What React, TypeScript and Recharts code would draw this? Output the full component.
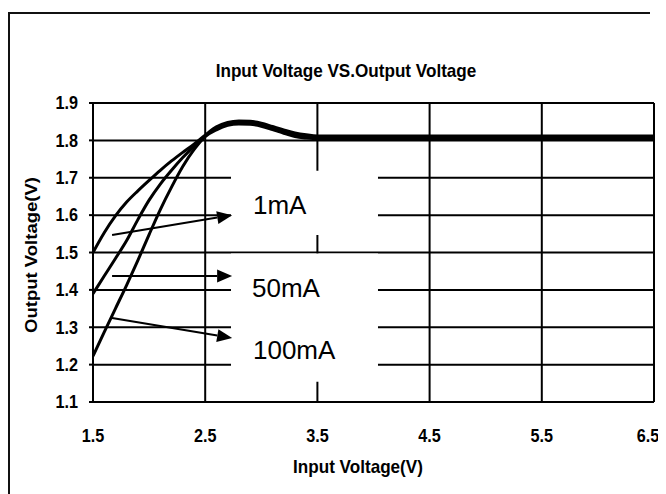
import {
  LineChart,
  Line,
  XAxis,
  YAxis,
  CartesianGrid,
  ReferenceArea,
  ReferenceLine,
  ReferenceDot,
} from 'recharts'

// input voltage (V) sample points
const vin = [
  1.5, 1.6, 1.7, 1.8, 1.9, 2.0, 2.1, 2.2, 2.3, 2.4, 2.5, 2.6, 2.7, 2.8, 2.9, 3.0,
  3.1, 3.2, 3.3, 3.4, 3.5, 4.0, 4.5, 5.0, 5.5, 6.0, 6.5,
]

// output voltage (V) per load current
const vout1mA = [
  1.5, 1.553, 1.598, 1.635, 1.665, 1.693, 1.72, 1.745, 1.768, 1.79, 1.814, 1.836,
  1.848, 1.852, 1.851, 1.846, 1.837, 1.828, 1.82, 1.815, 1.812, 1.812, 1.812,
  1.812, 1.812, 1.812, 1.812,
]
const vout50mA = [
  1.39, 1.437, 1.484, 1.532, 1.588, 1.64, 1.683, 1.72, 1.754, 1.784, 1.812, 1.832,
  1.844, 1.848, 1.847, 1.842, 1.833, 1.824, 1.815, 1.81, 1.808, 1.808, 1.808,
  1.808, 1.808, 1.808, 1.808,
]
const vout100mA = [
  1.223, 1.287, 1.35, 1.413, 1.479, 1.548, 1.615, 1.675, 1.73, 1.775, 1.81, 1.828,
  1.84, 1.844, 1.843, 1.838, 1.829, 1.819, 1.81, 1.806, 1.804, 1.804, 1.804,
  1.804, 1.804, 1.804, 1.804,
]

const xTicks = [1.5, 2.5, 3.5, 4.5, 5.5, 6.5]
const yTicks = [1.1, 1.2, 1.3, 1.4, 1.5, 1.6, 1.7, 1.8, 1.9]

// annotations (data coordinates)
const labelText = ['1mA', '50mA', '100mA']
const labelAt = [
  [2.926, 1.603],
  [2.917, 1.381],
  [2.926, 1.215],
]
const arrowFrom = [
  [1.67, 1.547],
  [1.67, 1.437],
  [1.67, 1.325],
]
const arrowTo = [
  [2.74, 1.6],
  [2.74, 1.437],
  [2.74, 1.271],
]
const boxX = [2.73, 4.04]
const boxY = [
  [1.547, 1.719],
  [1.154, 1.497],
]

const data = vin.map((v, i) => ({
  vin: v,
  i1: vout1mA[i],
  i50: vout50mA[i],
  i100: vout100mA[i],
}))

const FONT = '"Liberation Sans", Arial, sans-serif'

function XTick({ x, y, payload }: any) {
  return (
    <text
      transform={`translate(${x} ${y}) scale(0.9 1)`}
      textAnchor="middle"
      dy="0.35em"
      fontFamily={FONT}
      fontWeight="bold"
      fontSize={18}
      fill="#000"
    >
      {payload.value.toFixed(1)}
    </text>
  )
}

function YTick({ x, y, payload }: any) {
  return (
    <text
      transform={`translate(${x} ${y}) scale(0.9 1)`}
      textAnchor="end"
      dy="0.35em"
      fontFamily={FONT}
      fontWeight="bold"
      fontSize={18}
      fill="#000"
    >
      {payload.value.toFixed(1)}
    </text>
  )
}

function Arrow(props: any) {
  const { x1, y1, x2, y2 } = props
  if ([x1, y1, x2, y2].some((v) => typeof v !== 'number')) return null
  const a = Math.atan2(y2 - y1, x2 - x1)
  const len = 15
  const hw = 6.5
  const bx = x2 - len * Math.cos(a)
  const by = y2 - len * Math.sin(a)
  const px = -Math.sin(a) * hw
  const py = Math.cos(a) * hw
  return (
    <g>
      <line x1={x1} y1={y1} x2={bx} y2={by} stroke="#000" strokeWidth={2} />
      <polygon
        points={`${x2},${y2} ${bx + px},${by + py} ${bx - px},${by - py}`}
        fill="#000"
      />
    </g>
  )
}

const labelShape = (text: string) => (props: any) => (
  <text x={props.cx} y={props.cy} fontFamily={FONT} fontSize={26} fill="#000">
    {text}
  </text>
)

export default function App() {
  return (
    <div style={{ position: 'relative', width: 650, height: 486 }}>
      <style>
        {'body{overflow:hidden} .recharts-wrapper,.recharts-surface{overflow:visible !important}'}
      </style>
      <div
        style={{
          position: 'absolute',
          left: 0,
          top: 4,
          width: 640,
          height: 482,
          borderLeft: '2px solid #111',
          borderTop: '2px solid #111',
        }}
      />
      <LineChart
        width={650}
        height={478}
        data={data}
        margin={{ top: 95, right: 4, left: 0, bottom: 24 }}
      >
        <CartesianGrid stroke="#000" strokeWidth={2} />
        <XAxis
          type="number"
          dataKey="vin"
          domain={[1.5, 6.5]}
          ticks={xTicks}
          allowDataOverflow
          height={60}
          tickSize={0}
          tickMargin={34}
          tick={<XTick />}
          axisLine={{ stroke: '#000', strokeWidth: 2 }}
        />
        <YAxis
          type="number"
          domain={[1.1, 1.9]}
          ticks={yTicks}
          allowDataOverflow
          width={85}
          tickSize={4}
          tickMargin={11}
          tick={<YTick />}
          tickLine={{ stroke: '#000', strokeWidth: 2 }}
          axisLine={{ stroke: '#000', strokeWidth: 2 }}
        />
        {boxY.map(([y1, y2], i) => (
          <ReferenceArea
            key={`box-${i}`}
            x1={boxX[0]}
            x2={boxX[1]}
            y1={y1}
            y2={y2}
            fill="#fff"
            fillOpacity={1}
            stroke="none"
          />
        ))}
        <Line
          type="monotone"
          dataKey="i1"
          stroke="#000"
          strokeWidth={3}
          dot={false}
          isAnimationActive={false}
        />
        <Line
          type="monotone"
          dataKey="i50"
          stroke="#000"
          strokeWidth={3}
          dot={false}
          isAnimationActive={false}
        />
        <Line
          type="monotone"
          dataKey="i100"
          stroke="#000"
          strokeWidth={3}
          dot={false}
          isAnimationActive={false}
        />
        {arrowFrom.map((from, i) => (
          <ReferenceLine
            key={`arrow-${i}`}
            segment={[
              { x: from[0], y: from[1] },
              { x: arrowTo[i][0], y: arrowTo[i][1] },
            ]}
            shape={Arrow}
          />
        ))}
        {labelText.map((t, i) => (
          <ReferenceDot
            key={`label-${i}`}
            x={labelAt[i][0]}
            y={labelAt[i][1]}
            shape={labelShape(t)}
          />
        ))}
      </LineChart>
      <div
        style={{
          position: 'absolute',
          left: 337.5,
          top: 62.5,
          transform: 'translate(-50%, -50%) scaleX(0.9)',
          whiteSpace: 'nowrap',
          fontFamily: FONT,
          fontWeight: 'bold',
          fontSize: 19,
          lineHeight: '22px',
        }}
      >
        Input Voltage VS.Output Voltage
      </div>
      <div
        style={{
          position: 'absolute',
          left: 350,
          top: 459,
          transform: 'translate(-50%, -50%) scaleX(0.9)',
          whiteSpace: 'nowrap',
          fontFamily: FONT,
          fontWeight: 'bold',
          fontSize: 19,
          lineHeight: '22px',
        }}
      >
        Input Voltage(V)
      </div>
      <div
        style={{
          position: 'absolute',
          left: 24,
          top: 247,
          transform: 'translate(-50%, -50%) rotate(-90deg) scale(1, 0.9)',
          whiteSpace: 'nowrap',
          fontFamily: FONT,
          fontWeight: 'bold',
          fontSize: 18.5,
          lineHeight: '22px',
        }}
      >
        Output Voltage(V)
      </div>
    </div>
  )
}
